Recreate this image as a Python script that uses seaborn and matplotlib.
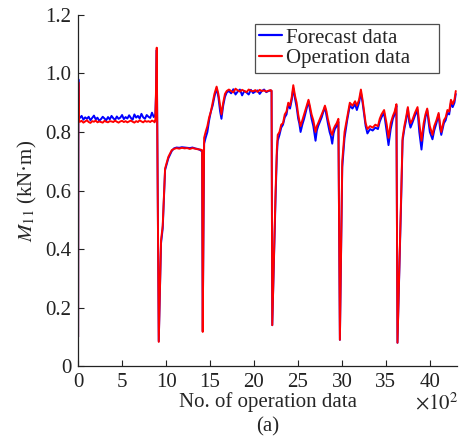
import numpy as np
import pandas as pd
import matplotlib
matplotlib.use("Agg")
import matplotlib.pyplot as plt
import seaborn as sns

# ---- data (x in units of 10^2 operation samples) ----
seg1_x = [0.0, 0.03, 0.08, 0.2, 0.4, 0.6, 0.8, 1.0, 1.2, 1.4,
          1.6, 1.8, 2.0, 2.2, 2.4, 2.6, 2.8, 3.0, 3.2, 3.4,
          3.6, 3.8, 4.0, 4.2, 4.4, 4.6, 4.8, 5.0, 5.2, 5.4,
          5.6, 5.8, 6.0, 6.2, 6.4, 6.6, 6.8, 7.0, 7.2, 7.4,
          7.6, 7.8, 8.0, 8.2, 8.4, 8.6, 8.7]
seg1_op = [0.10, 0.97, 0.84, 0.835, 0.838, 0.832, 0.836, 0.840, 0.834, 0.831,
           0.837, 0.835, 0.839, 0.833, 0.836, 0.834, 0.832, 0.838, 0.835, 0.833,
           0.837, 0.836, 0.834, 0.839, 0.835, 0.832, 0.836, 0.838, 0.834, 0.837,
           0.833, 0.836, 0.839, 0.835, 0.832, 0.837, 0.834, 0.840, 0.836, 0.833,
           0.838, 0.835, 0.837, 0.834, 0.839, 0.836, 0.833]
seg1_fc = [0.10, 0.98, 0.85, 0.848, 0.855, 0.842, 0.850, 0.845, 0.852, 0.840,
           0.848, 0.856, 0.843, 0.849, 0.838, 0.844, 0.852, 0.846, 0.840, 0.851,
           0.843, 0.855, 0.847, 0.841, 0.853, 0.845, 0.849, 0.858, 0.844, 0.851,
           0.846, 0.857, 0.848, 0.842, 0.860, 0.849, 0.855, 0.846, 0.862, 0.850,
           0.845, 0.858, 0.852, 0.848, 0.866, 0.851, 0.856]

seg2_x = [8.78, 8.85, 8.94, 9.17]
seg2_op = [0.84, 0.93, 1.088, 0.083]
seg2_fc = [0.86, 0.92, 1.08, 0.085]

seg3_x = [9.43, 9.62, 9.89, 10.26, 10.65, 10.9, 11.2, 11.5, 11.8, 12.1,
          12.4, 12.7, 13.0, 13.3, 13.6, 13.9, 14.1]
seg3_op = [0.43, 0.48, 0.675, 0.715, 0.738, 0.742, 0.745, 0.743, 0.746, 0.744,
           0.745, 0.742, 0.745, 0.743, 0.741, 0.740, 0.738]
seg3_fc = [0.42, 0.47, 0.67, 0.71, 0.735, 0.744, 0.747, 0.746, 0.748, 0.747,
           0.746, 0.745, 0.747, 0.744, 0.742, 0.738, 0.733]

seg4_x = [14.17, 14.33, 14.5, 14.7, 14.9, 15.1, 15.3, 15.5, 15.75, 15.95,
          16.15, 16.3, 16.5, 16.7, 16.9]
seg4_op = [0.117, 0.78, 0.80, 0.82, 0.85, 0.87, 0.90, 0.93, 0.955, 0.93,
           0.89, 0.86, 0.90, 0.93, 0.94]
seg4_fc = [0.12, 0.76, 0.78, 0.80, 0.84, 0.87, 0.89, 0.92, 0.95, 0.92,
           0.87, 0.845, 0.89, 0.92, 0.935]

seg5_x = [17.15, 17.4, 17.65, 17.9, 18.15, 18.4, 18.65, 18.9, 19.15, 19.4,
          19.65, 19.9, 20.15, 20.4, 20.65, 20.9, 21.15, 21.4, 21.65, 21.9, 22.0]
seg5_op = [0.945, 0.94, 0.935, 0.948, 0.942, 0.938, 0.944, 0.940, 0.936, 0.945,
           0.941, 0.939, 0.943, 0.937, 0.944, 0.940, 0.942, 0.938, 0.941, 0.943, 0.941]
seg5_fc = [0.94, 0.932, 0.946, 0.928, 0.938, 0.945, 0.925, 0.94, 0.935, 0.928,
           0.944, 0.933, 0.938, 0.942, 0.93, 0.94, 0.945, 0.936, 0.94, 0.942, 0.94]

seg6_x = [22.08, 22.46, 22.6, 22.7, 22.9, 23.1, 23.3, 23.5, 23.7, 23.9,
          24.1, 24.3, 24.47, 24.66, 24.85, 25.03, 25.15, 25.3, 25.5, 25.7,
          25.95, 26.2, 26.35, 26.55, 26.75, 26.9, 27.0, 27.15, 27.3, 27.5,
          27.7, 27.9, 28.07, 28.25, 28.4, 28.6, 28.75, 28.9, 29.05, 29.2,
          29.4, 29.6, 29.77]
seg6_op = [0.14, 0.60, 0.74, 0.79, 0.80, 0.825, 0.83, 0.86, 0.87, 0.90,
           0.89, 0.92, 0.96, 0.925, 0.90, 0.86, 0.84, 0.82, 0.84, 0.86,
           0.885, 0.91, 0.89, 0.86, 0.84, 0.815, 0.80, 0.82, 0.83, 0.845,
           0.86, 0.875, 0.89, 0.87, 0.845, 0.82, 0.80, 0.79, 0.81, 0.82,
           0.83, 0.845, 0.09]
seg6_fc = [0.14, 0.58, 0.72, 0.77, 0.79, 0.815, 0.825, 0.85, 0.86, 0.895,
           0.88, 0.91, 0.95, 0.915, 0.885, 0.845, 0.83, 0.80, 0.825, 0.845,
           0.875, 0.905, 0.88, 0.845, 0.82, 0.79, 0.77, 0.805, 0.82, 0.835,
           0.85, 0.87, 0.885, 0.855, 0.83, 0.80, 0.785, 0.76, 0.795, 0.81,
           0.82, 0.835, 0.09]

seg7_x = [30.04, 30.3, 30.6, 30.9, 31.2, 31.5, 31.7, 31.95, 32.16, 32.35,
          32.5, 32.7, 32.9, 33.2, 33.5, 33.8, 34.1, 34.3, 34.5, 34.8,
          35.1, 35.3, 35.55, 35.8, 36.0, 36.2, 36.32]
seg7_op = [0.70, 0.80, 0.85, 0.90, 0.89, 0.905, 0.89, 0.91, 0.945, 0.91,
           0.875, 0.83, 0.81, 0.82, 0.815, 0.825, 0.82, 0.845, 0.86, 0.875,
           0.825, 0.78, 0.83, 0.855, 0.87, 0.895, 0.08]
seg7_fc = [0.68, 0.78, 0.84, 0.89, 0.88, 0.895, 0.875, 0.90, 0.935, 0.90,
           0.865, 0.82, 0.795, 0.81, 0.805, 0.815, 0.81, 0.835, 0.85, 0.865,
           0.80, 0.755, 0.81, 0.845, 0.86, 0.89, 0.08]

seg8_x = [36.75, 36.9, 37.1, 37.3, 37.5, 37.65, 37.8, 38.0, 38.3, 38.6,
          38.8, 39.05, 39.3, 39.5, 39.7, 39.85, 40.0, 40.3, 40.5, 40.75,
          41.0, 41.15, 41.3, 41.6, 41.8, 42.0, 42.2, 42.4, 42.6, 42.8, 42.95]
seg8_op = [0.60, 0.78, 0.82, 0.85, 0.885, 0.85, 0.83, 0.84, 0.865, 0.885,
           0.83, 0.77, 0.83, 0.86, 0.88, 0.85, 0.82, 0.79, 0.82, 0.84,
           0.865, 0.83, 0.80, 0.84, 0.85, 0.875, 0.87, 0.91, 0.895, 0.91, 0.94]
seg8_fc = [0.58, 0.77, 0.81, 0.84, 0.88, 0.835, 0.815, 0.83, 0.855, 0.875,
           0.80, 0.74, 0.81, 0.85, 0.875, 0.835, 0.80, 0.775, 0.805, 0.83,
           0.86, 0.815, 0.79, 0.83, 0.84, 0.865, 0.86, 0.90, 0.885, 0.90, 0.93]

series_names = ["Forecast data", "Operation data"]
x_ticks = [0, 5, 10, 15, 20, 25, 30, 35, 40]
y_ticks = [0, 0.2, 0.4, 0.6, 0.8, 1.0, 1.2]
y_tick_labels = ["0", "0.2", "0.4", "0.6", "0.8", "1.0", "1.2"]

# ---- build table ----
xs = np.concatenate([seg1_x, seg2_x, seg3_x, seg4_x, seg5_x, seg6_x, seg7_x, seg8_x])
op = np.concatenate([seg1_op, seg2_op, seg3_op, seg4_op, seg5_op, seg6_op, seg7_op, seg8_op])
fc = np.concatenate([seg1_fc, seg2_fc, seg3_fc, seg4_fc, seg5_fc, seg6_fc, seg7_fc, seg8_fc])
df = pd.DataFrame({
    "x": np.concatenate([xs, xs]),
    "y": np.concatenate([fc, op]),
    "series": [series_names[0]] * len(xs) + [series_names[1]] * len(xs),
})

sns.set_theme(style="ticks")
plt.rcParams["font.family"] = ["Liberation Serif", "DejaVu Serif"]
plt.rcParams["mathtext.fontset"] = "stix"

fig = plt.figure(figsize=(4.65, 4.38), dpi=100)
ax = fig.add_axes([0.168, 0.164, 0.815, 0.802])

sns.lineplot(data=df, x="x", y="y", hue="series", hue_order=series_names,
             palette={"Forecast data": "#0000ff", "Operation data": "#ff0000"},
             estimator=None, sort=False, linewidth=1.4, ax=ax)

ax.set_xlim(0, 43.1)
ax.set_ylim(0, 1.2)
ax.set_xticks(x_ticks)
ax.set_xticklabels([str(t) for t in x_ticks])
ax.set_yticks(y_ticks)
ax.set_yticklabels(y_tick_labels)
ax.tick_params(direction="in", labelsize=15, length=4, width=0.8, colors="#222222", pad=5)
for s in ["top", "right"]:
    ax.spines[s].set_visible(False)
for s in ["left", "bottom"]:
    ax.spines[s].set_linewidth(0.9)
    ax.spines[s].set_color("#222222")

ax.set_xlabel("No. of operation data", fontsize=15, labelpad=0)
ax.set_ylabel(r"$M_{11}$ (kN·m)", fontsize=15, labelpad=4)

fig.text(0.987, 0.079, r"$\times 10^2$", ha="right", va="center", fontsize=15)
fig.text(0.575, 0.026, "(a)", ha="center", va="center", fontsize=15)

leg = ax.legend(loc="upper left", bbox_to_anchor=(0.467, 0.84, 0.486, 0.134),
                mode="expand", fontsize=15,
                frameon=True, fancybox=False, edgecolor="#222222",
                handlelength=1.1, handletextpad=0.2, borderpad=0.2,
                labelspacing=0.05, borderaxespad=0)
leg.get_frame().set_linewidth(0.9)
for h in leg.get_lines():
    h.set_linewidth(1.6)

fig.savefig("out.png", dpi=100)
